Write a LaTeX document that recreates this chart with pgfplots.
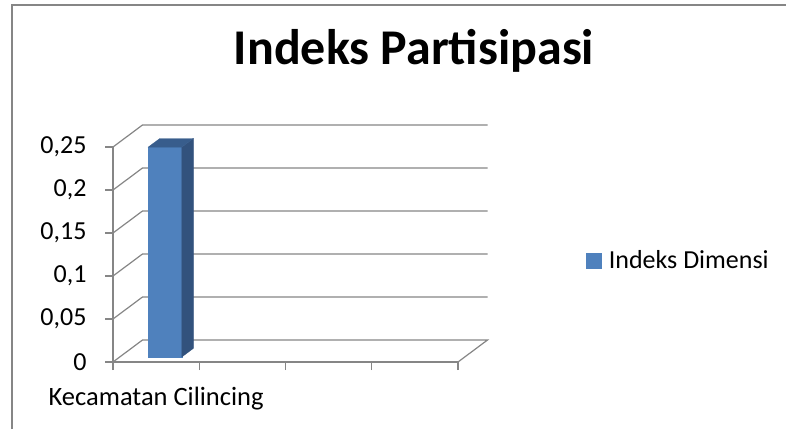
\documentclass[border=0pt]{standalone}
\usepackage{pgfplots}
\pgfplotsset{compat=1.18}
\usepackage{fontspec}
\setmainfont{Carlito}
\definecolor{gridc}{RGB}{134,134,134}
\definecolor{barfront}{RGB}{79,129,189}
\definecolor{barside}{RGB}{50,82,125}
\definecolor{bartop}{RGB}{56,93,140}
\begin{document}
\begin{tikzpicture}[x=1pt,y=1pt]
\useasboundingbox (0,0) rectangle (786,429);
\fill[white] (0,0) rectangle (786,429);
\draw[gridc, line width=1.6pt] (12,0) -- (12,424) -- (786,424);
\node[font=\fontsize{50}{60}\selectfont\bfseries, anchor=base, inner sep=0pt] at (414,364) {Indeks Partisipasi};

% 3D walls, floor and the bar
\begin{axis}[
  at={(113pt,67pt)}, anchor=origin,
  x={(86.25pt,0pt)}, y={(29.5pt,22pt)}, z={(0pt,860pt)},
  xmin=0,xmax=4,ymin=0,ymax=1,zmin=0,zmax=0.25,
  hide axis, clip=false,
]
\pgfplotsinvokeforeach{0.05,0.1,0.15,0.2,0.25}{
  \addplot3[gridc, line width=1.2pt, mark=none] coordinates {(0,0,#1) (0,1,#1) (4,1,#1)};
}
\addplot3[gridc, line width=1.2pt, mark=none] coordinates {(0,0,0) (0,1,0) (4,1,0) (4,0,0) (0,0,0)};
% bar: x 0.33..0.72, depth 0.23..0.62, value 0.244
\addplot3[fill=barfront, draw=barfront, line width=0.3pt] coordinates {(0.33,0.23,0) (0.72,0.23,0) (0.72,0.23,0.244) (0.33,0.23,0.244)} -- cycle;
\addplot3[fill=barside, draw=barside, line width=0.3pt] coordinates {(0.72,0.23,0) (0.72,0.62,0) (0.72,0.62,0.244) (0.72,0.23,0.244)} -- cycle;
\addplot3[fill=bartop, draw=bartop, line width=0.3pt] coordinates {(0.33,0.23,0.244) (0.72,0.23,0.244) (0.72,0.62,0.244) (0.33,0.62,0.244)} -- cycle;
\end{axis}

% front frame: axes, ticks, labels, legend
\begin{axis}[
  at={(113pt,67pt)}, anchor=origin,
  x=86.25pt, y=860pt,
  xmin=0,xmax=4,ymin=0,ymax=0.25,
  axis x line*=bottom, axis y line*=left,
  axis line style={gridc, line width=1.2pt},
  tick style={gridc, line width=1.2pt},
  major tick length=8pt, tick align=outside,
  xtick={0,1,2,3,4}, xticklabels={},
  extra x ticks={0.5}, extra x tick labels={Kecamatan Cilincing},
  extra x tick style={major tick length=0pt, tick label style={yshift=-22pt}},
  x tick label style={font=\fontsize{26.5}{30}\selectfont, text=black},
  ytick={0,0.05,0.1,0.15,0.2,0.25},
  yticklabel style={font=\fontsize{26}{30}\selectfont, text=black, xshift=-15pt,
    /pgf/number format/.cd, use comma, fixed, precision=2, assume math mode=true},
  legend style={at={(1.363,0.472)}, anchor=west, draw=none, fill=none,
    font=\fontsize{26}{30}\selectfont,
    /tikz/every odd column/.append style={column sep=5pt}},
  legend image code/.code={\fill[barfront] (0pt,-7.5pt) rectangle (15pt,7.5pt);},
]
\addlegendimage{barfront}
\addlegendentry{Indeks Dimensi}
\end{axis}
\end{tikzpicture}
\end{document}
